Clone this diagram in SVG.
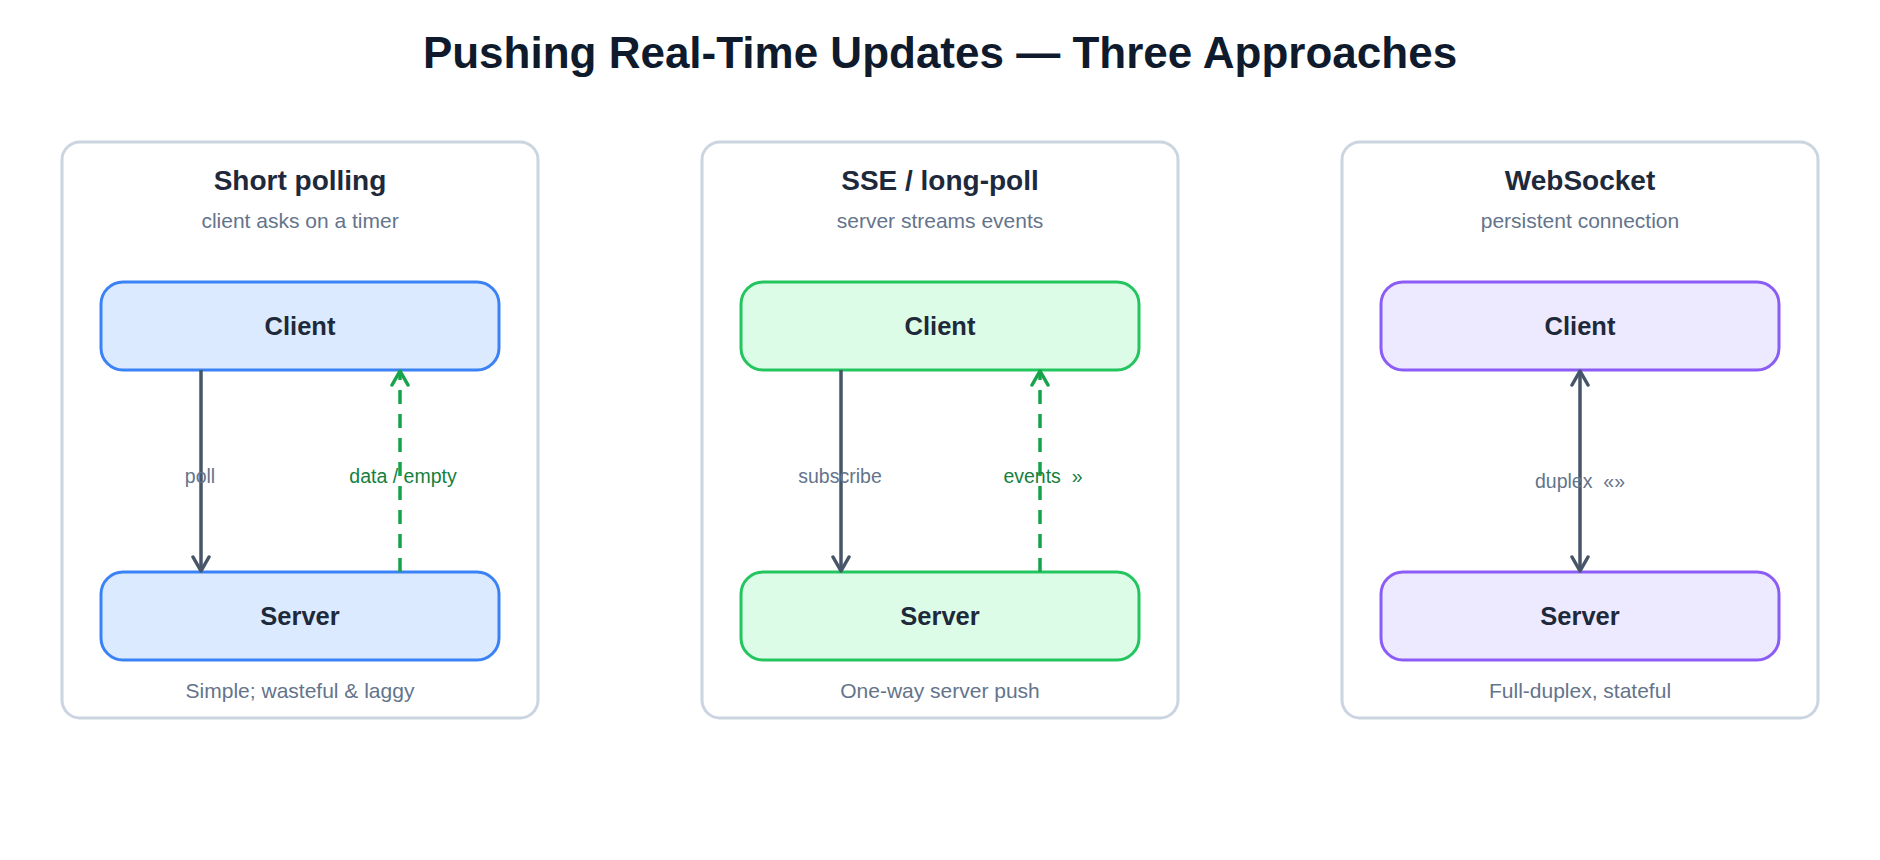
<svg xmlns="http://www.w3.org/2000/svg" width="1880" height="860" viewBox="0 0 1880 860">
<style>
text{font-family:"Liberation Sans",Arial,sans-serif;text-anchor:middle}
.title{font-size:44px;font-weight:bold;fill:#0f1b2d}
.ph{font-size:28px;font-weight:bold;fill:#1e293b}
.sub{font-size:21px;fill:#64748b}
.nl{font-size:25.5px;font-weight:bold;fill:#1e293b}
.lbl{font-size:19.5px;fill:#64748b}
.glbl{font-size:19.5px;fill:#15803d}
.panel{fill:#fff;stroke:#cbd5e1;stroke-width:3}
.b{fill:#dbeafe;stroke:#3b82f6;stroke-width:3}
.g{fill:#dcfce7;stroke:#22c55e;stroke-width:3}
.p{fill:#ede9fe;stroke:#8b5cf6;stroke-width:3}
.req{stroke:#475569;stroke-width:3.5;fill:none}
.resp{stroke:#16a34a;stroke-width:3.5;fill:none;stroke-dasharray:14 10}
</style>
<defs>
<marker id="ag" viewBox="0 0 20 20" refX="18" refY="10" markerWidth="20" markerHeight="20" markerUnits="userSpaceOnUse" orient="auto-start-reverse"><path d="M4,2 L18,10 L4,18" fill="none" stroke="#475569" stroke-width="3.5" stroke-linecap="round" stroke-linejoin="round"/></marker>
<marker id="agr" viewBox="0 0 20 20" refX="18" refY="10" markerWidth="20" markerHeight="20" markerUnits="userSpaceOnUse" orient="auto"><path d="M4,2 L18,10 L4,18" fill="none" stroke="#16a34a" stroke-width="3.5" stroke-linecap="round" stroke-linejoin="round"/></marker>
</defs>
<rect width="1880" height="860" fill="#fff"/>
<text class="title" x="940" y="68">Pushing Real-Time Updates — Three Approaches</text>
<g id="panel1">
<rect class="panel" x="62" y="142" width="476" height="576" rx="18"/>
<text class="ph" x="300" y="190">Short polling</text>
<text class="sub" x="300" y="228">client asks on a timer</text>
<text class="sub" x="300" y="698">Simple; wasteful &amp; laggy</text>
</g>
<g id="panel2">
<rect class="panel" x="702" y="142" width="476" height="576" rx="18"/>
<text class="ph" x="940" y="190">SSE / long-poll</text>
<text class="sub" x="940" y="228">server streams events</text>
<text class="sub" x="940" y="698">One-way server push</text>
</g>
<g id="panel3">
<rect class="panel" x="1342" y="142" width="476" height="576" rx="18"/>
<text class="ph" x="1580" y="190">WebSocket</text>
<text class="sub" x="1580" y="228">persistent connection</text>
<text class="sub" x="1580" y="698">Full-duplex, stateful</text>
</g>
<g id="client1"><rect class="b" x="101" y="282" width="398" height="88" rx="22"/><text class="nl" x="300" y="335">Client</text></g>
<g id="server1"><rect class="b" x="101" y="572" width="398" height="88" rx="22"/><text class="nl" x="300" y="625">Server</text></g>
<g id="client2"><rect class="g" x="741" y="282" width="398" height="88" rx="22"/><text class="nl" x="940" y="335">Client</text></g>
<g id="server2"><rect class="g" x="741" y="572" width="398" height="88" rx="22"/><text class="nl" x="940" y="625">Server</text></g>
<g id="client3"><rect class="p" x="1381" y="282" width="398" height="88" rx="22"/><text class="nl" x="1580" y="335">Client</text></g>
<g id="server3"><rect class="p" x="1381" y="572" width="398" height="88" rx="22"/><text class="nl" x="1580" y="625">Server</text></g>
<g id="connectors">
<line class="req" x1="201" y1="370" x2="201" y2="571" marker-end="url(#ag)"/>
<line class="resp" x1="400" y1="572" x2="400" y2="371" marker-end="url(#agr)"/>
<text class="lbl" x="200" y="483">poll</text>
<text class="glbl" x="403" y="483">data / empty</text>
<line class="req" x1="841" y1="370" x2="841" y2="571" marker-end="url(#ag)"/>
<line class="resp" x1="1040" y1="572" x2="1040" y2="371" marker-end="url(#agr)"/>
<text class="lbl" x="840" y="483">subscribe</text>
<text class="glbl" x="1043" y="483" xml:space="preserve">events  »</text>
<line class="req" x1="1580" y1="371" x2="1580" y2="571" marker-start="url(#ag)" marker-end="url(#ag)"/>
<text class="lbl" x="1580" y="488" xml:space="preserve">duplex  «»</text>
</g>
</svg>
